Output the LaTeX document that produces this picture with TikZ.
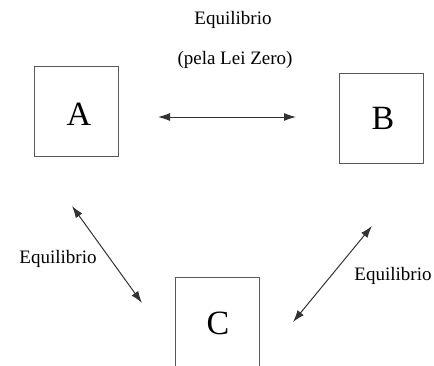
\documentclass[tikz,border=0pt]{standalone}
\usepackage{fontspec}
\setmainfont{Liberation Serif}
\usetikzlibrary{arrows.meta}
\begin{document}
\begin{tikzpicture}[x=1pt,y=-1pt,
  box/.style={draw=black!65,line width=1.1pt,minimum width=84pt,minimum height=90pt,inner sep=0pt,anchor=north west},
  letter/.style={font=\fontsize{34}{34}\selectfont},
  lbl/.style={font=\fontsize{19}{19}\selectfont,inner sep=0pt},
  conn/.style={draw=black!80,line width=1pt,{Latex[length=12pt,width=8pt]}-{Latex[length=12pt,width=8pt]}}]
\useasboundingbox (0,0) rectangle (434,365);
\clip (0,0) rectangle (434,365);
\node[box] (A) at (34,66) {};
\node[box] (B) at (339,73) {};
\node[box,minimum height=95pt] (C) at (175,277) {};
\node[letter] (tA) at (79,114) {A};
\node[letter] (tB) at (383,118) {B};
\node[letter] (tC) at (218,323) {C};
\coordinate (ab1) at (158,117);
\coordinate (ab2) at (296,117);
\coordinate (ac1) at (72,206);
\coordinate (ac2) at (142,303);
\coordinate (bc1) at (372,226);
\coordinate (bc2) at (293,322);
\draw[conn] (ab1) -- (ab2);
\draw[conn] (ac1) -- (ac2);
\draw[conn] (bc1) -- (bc2);
\node[lbl] (l1) at (233,20) {Equilibrio};
\node[lbl] (l2) at (235,60) {(pela Lei Zero)};
\node[lbl] (l3) at (58,259) {Equilibrio};
\node[lbl] (l4) at (393,276) {Equilibrio};
\end{tikzpicture}
\end{document}
